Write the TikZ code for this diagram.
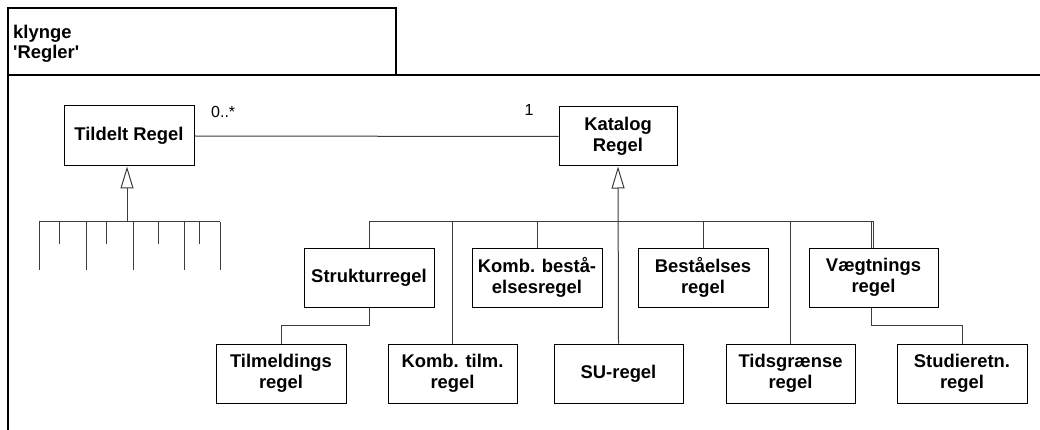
\documentclass[tikz,border=0pt]{standalone}
\usepackage{fontspec}
\setmainfont{Liberation Sans}[Ligatures=TeXOff]
\usetikzlibrary{arrows.meta}
\definecolor{linegray}{RGB}{60,60,60}
\begin{document}
\begin{tikzpicture}[x=1pt,y=-1pt,
  umlbox/.style={draw=black,line width=1pt,fill=white,inner sep=0pt,align=center,
    minimum width=130pt,minimum height=59pt,
    font=\fontsize{18.4}{21}\selectfont\bfseries},
  conn/.style={draw=linegray,line width=1pt},
  gen/.style={conn,-{Triangle[open,length=22pt,width=13pt,line width=1pt]}},
  mult/.style={inner sep=0pt,font=\fontsize{16}{18}\selectfont},
  frame/.style={draw=black,line width=1.3pt}]
\useasboundingbox (0,0) rectangle (1040,430);

% package tab and frame
\draw[frame] (8,75) -- (8,8) -- (396,8) -- (396,75);
\draw[frame] (1040,75) -- (8,75) -- (8,430);
\node[anchor=north west,inner sep=0pt,align=left,
  font=\fontsize{18.4}{20.4}\selectfont\bfseries] (pkg) at (13,24.5) {klynge\\'Regler'};

% classes
\node[umlbox,minimum height=60pt] (tildelt) at (129,136) {Tildelt Regel};
\node[umlbox,minimum width=118pt] (katalog) at (618,136.5) {Katalog\\Regel};

\node[umlbox] (struktur) at (369,277.5) {Strukturregel};
\node[umlbox] (kombbest) at (537,277.5) {Komb. bestå-\\elsesregel};
\node[umlbox] (bestaa) at (703,277.5) {Beståelses\\regel};
\node[umlbox,minimum width=129pt] (vaegt) at (873.5,277.5) {Vægtnings\\regel};

\node[umlbox] (tilmeld) at (281,373.5) {Tilmeldings\\regel};
\node[umlbox,minimum width=129pt] (kombtilm) at (452.5,373.5) {Komb. tilm.\\regel};
\node[umlbox,minimum width=129pt] (su) at (618.5,373.5) {SU-regel};
\node[umlbox,minimum width=129pt] (tids) at (790.5,373.5) {Tidsgrænse\\regel};
\node[umlbox] (studie) at (962,373.5) {Studieretn.\\regel};

% association with multiplicities
\draw[conn] (tildelt.east) -- (katalog.west);
\node[mult,anchor=base west] (m0) at (211,118) {0..*};
\node[mult,anchor=base] (m1) at (529,116) {1};

% generalisation tree under Katalog Regel
\coordinate (bus) at (618,222);
\draw[gen] (su.north) -- (katalog.south);
\draw[conn] (struktur.north) -- ++(0,-26) -| (vaegt.north);
\draw[conn] ([xshift=-2pt]vaegt.north) -- ([xshift=-2pt]vaegt.north |- bus);
\draw[conn] (kombbest.north) -- (kombbest.north |- bus);
\draw[conn] (bestaa.north) -- (bestaa.north |- bus);
\draw[conn] (kombtilm.north) -- (kombtilm.north |- bus);
\draw[conn] (tids.north) -- (tids.north |- bus);
\draw[conn] (struktur.south) -- ++(0,18) -| (tilmeld.north);
\draw[conn] ([xshift=-2pt]vaegt.south) -- ++(0,18) -| (studie.north);

% generalisation stubs under Tildelt Regel
\coordinate (lbus) at (127,222);
\coordinate (lbusL) at (39,222);
\coordinate (lbusR) at (220,222);
\draw[gen] (lbus) -- (tildelt.south -| lbus);
\draw[conn] (lbusL) -- (lbusR);
\foreach \x/\len in {39/48,59/22,86/48,106/22,133/48,158/22,184/48,199/22,220/48}
  \draw[conn] (\x,222) -- ++(0,\len);
\end{tikzpicture}
\end{document}
